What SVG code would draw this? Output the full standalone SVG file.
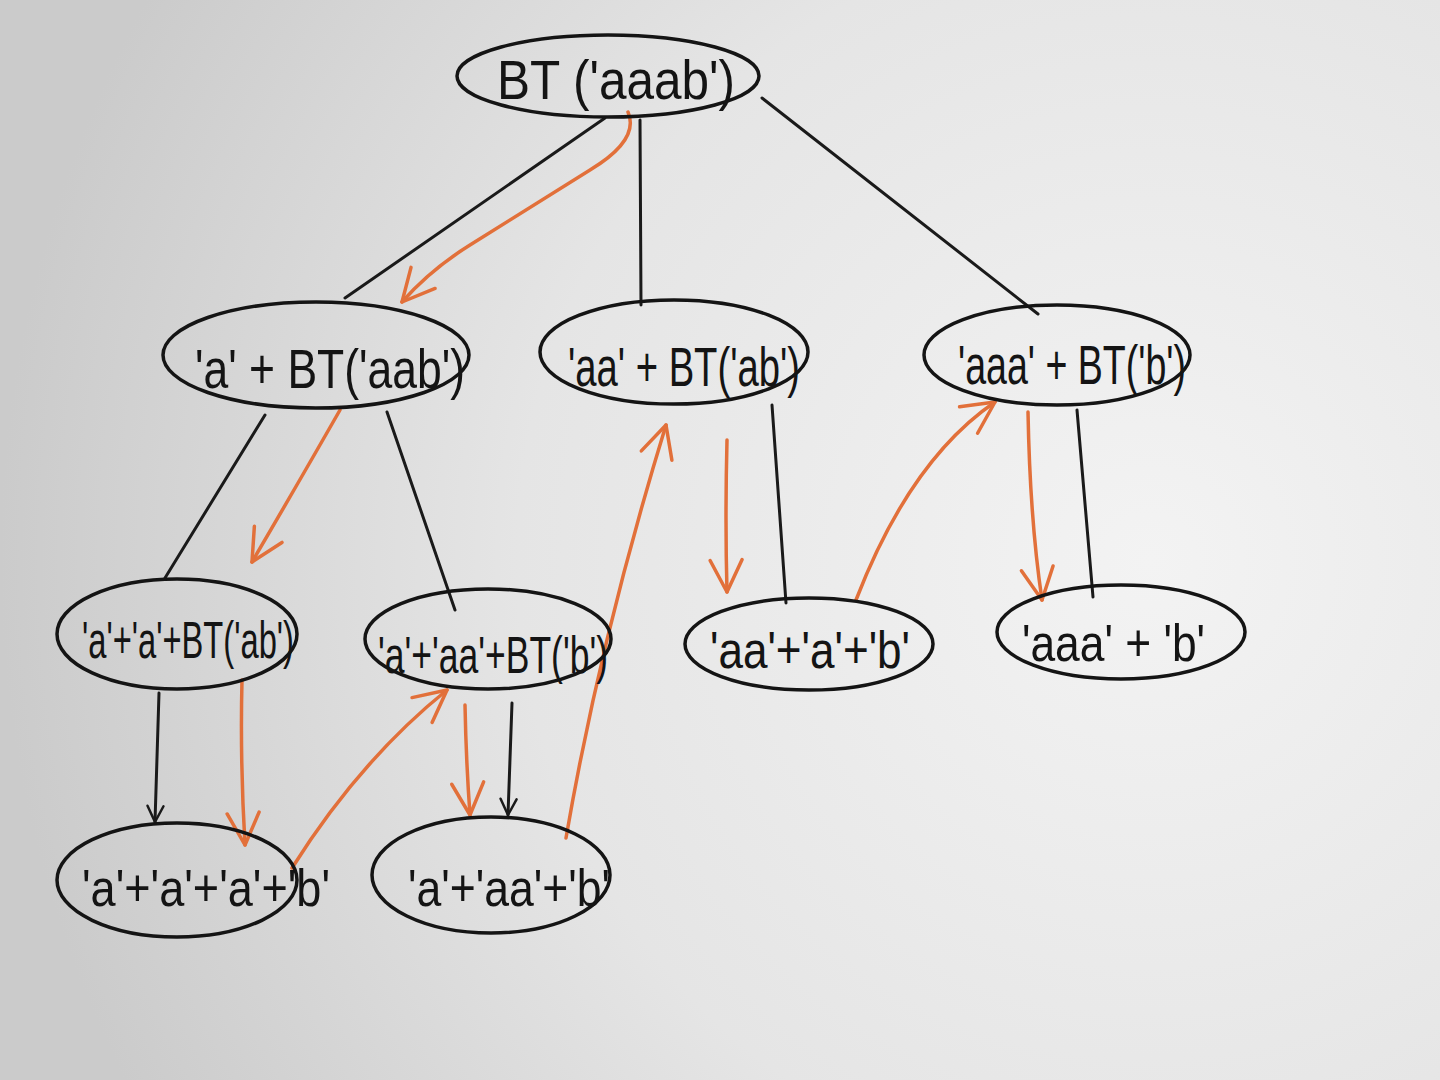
<svg xmlns="http://www.w3.org/2000/svg" width="1440" height="1080" viewBox="0 0 1440 1080">
<defs>
<radialGradient id="bg" cx="1150" cy="560" r="1150" gradientUnits="userSpaceOnUse">
<stop offset="0" stop-color="#f3f3f3"/>
<stop offset="0.55" stop-color="#e5e5e5"/>
<stop offset="1" stop-color="#cbcbcb"/>
</radialGradient>
<marker id="ab" viewBox="0 0 20 20" refX="18" refY="10" markerWidth="20" markerHeight="20" markerUnits="userSpaceOnUse" orient="auto">
<polyline points="2,2 18,10 2,18" fill="none" stroke="#1a1a1a" stroke-width="2.5" stroke-linecap="round" stroke-linejoin="round"/>
</marker>
<marker id="ao" viewBox="0 0 40 40" refX="36" refY="20" markerWidth="40" markerHeight="40" markerUnits="userSpaceOnUse" orient="auto">
<polyline points="4,4 36,20 4,36" fill="none" stroke="#e2703a" stroke-width="3.5" stroke-linecap="round" stroke-linejoin="round"/>
</marker>
</defs>
<style>
.n ellipse{fill:none;stroke:#141414;stroke-width:3.5}
.n text{font-family:"Liberation Sans",Arial,sans-serif;font-size:56px;fill:#141414}
.n text.s{font-size:52px}
.k{fill:none;stroke:#1a1a1a;stroke-width:3;stroke-linecap:round}
.o{fill:none;stroke:#e2703a;stroke-width:3.5;stroke-linecap:round}
</style>
<rect width="1440" height="1080" fill="url(#bg)"/>
<g id="connectors">
<line class="k" x1="605" y1="118" x2="345" y2="298"/>
<line class="k" x1="640" y1="120" x2="641" y2="305"/>
<line class="k" x1="762" y1="98" x2="1038" y2="314"/>
<line class="k" x1="265" y1="415" x2="165" y2="578"/>
<line class="k" x1="387" y1="412" x2="455" y2="610"/>
<line class="k" x1="772" y1="405" x2="786" y2="603"/>
<line class="k" x1="1077" y1="410" x2="1093" y2="597"/>
<line class="k" x1="159" y1="693" x2="155" y2="822" marker-end="url(#ab)"/>
<line class="k" x1="512" y1="703" x2="508" y2="815" marker-end="url(#ab)"/>
<path class="o" d="M628,112 Q640,140 590,170 L470,245 Q430,270 402,302" marker-end="url(#ao)"/>
<path class="o" d="M340,410 Q300,480 252,562" marker-end="url(#ao)"/>
<path class="o" d="M242,680 Q240,760 245,845" marker-end="url(#ao)"/>
<path class="o" d="M292,868 Q360,760 447,690" marker-end="url(#ao)"/>
<path class="o" d="M465,705 Q466,760 470,815" marker-end="url(#ao)"/>
<path class="o" d="M566,838 Q600,640 666,425" marker-end="url(#ao)"/>
<path class="o" d="M727,440 Q725,520 727,592" marker-end="url(#ao)"/>
<path class="o" d="M856,600 Q910,460 995,402" marker-end="url(#ao)"/>
<path class="o" d="M1028,412 Q1030,520 1042,600" marker-end="url(#ao)"/>
</g>
<g id="root" class="n"><ellipse cx="608" cy="76" rx="151" ry="41"/><text x="497" y="99" textLength="238" lengthAdjust="spacingAndGlyphs">BT ('aaab')</text></g>
<g id="n1" class="n"><ellipse cx="316" cy="355" rx="153" ry="53"/><text x="195" y="388" textLength="270" lengthAdjust="spacingAndGlyphs">'a' + BT('aab')</text></g>
<g id="n2" class="n"><ellipse cx="674" cy="352" rx="134" ry="52"/><text x="568" y="386" textLength="232" lengthAdjust="spacingAndGlyphs">'aa' + BT('ab')</text></g>
<g id="n3" class="n"><ellipse cx="1057" cy="355" rx="133" ry="50"/><text x="958" y="384" textLength="228" lengthAdjust="spacingAndGlyphs">'aaa' + BT('b')</text></g>
<g id="n4" class="n"><ellipse cx="177" cy="634" rx="120" ry="55"/><text class="s" x="82" y="658" textLength="212" lengthAdjust="spacingAndGlyphs">'a'+'a'+BT('ab')</text></g>
<g id="n5" class="n"><ellipse cx="488" cy="639" rx="123" ry="50"/><text class="s" x="378" y="673" textLength="230" lengthAdjust="spacingAndGlyphs">'a'+'aa'+BT('b')</text></g>
<g id="n6" class="n"><ellipse cx="809" cy="644" rx="124" ry="46"/><text class="s" x="710" y="668" textLength="200" lengthAdjust="spacingAndGlyphs">'aa'+'a'+'b'</text></g>
<g id="n7" class="n"><ellipse cx="1121" cy="632" rx="124" ry="47"/><text class="s" x="1022" y="661" textLength="183" lengthAdjust="spacingAndGlyphs">'aaa' + 'b'</text></g>
<g id="n8" class="n"><ellipse cx="177" cy="880" rx="120" ry="57"/><text class="s" x="82" y="906" textLength="248" lengthAdjust="spacingAndGlyphs">'a'+'a'+'a'+'b'</text></g>
<g id="n9" class="n"><ellipse cx="491" cy="875" rx="119" ry="58"/><text class="s" x="408" y="906" textLength="202" lengthAdjust="spacingAndGlyphs">'a'+'aa'+'b'</text></g>
</svg>
